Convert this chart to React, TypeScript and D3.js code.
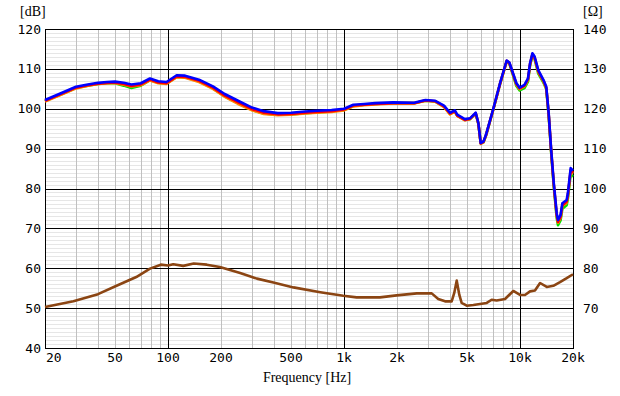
import React from "react";
import * as d3 from "d3";

const splFreq = [20, 25, 30, 35, 40, 45, 50, 56, 62, 70, 79, 88, 98, 112, 125, 150, 180, 210, 250, 300, 350, 420, 500, 600, 700, 850, 1000, 1130, 1300, 1500, 1900, 2500, 2900, 3300, 3700, 4000, 4260, 4400, 4860, 5200, 5600, 5800, 5980, 6200, 6400, 7060, 7700, 8400, 8700, 9540, 9950, 10600, 11100, 11400, 11760, 12100, 12700, 13600, 14100, 14550, 15030, 15560, 16160, 16440, 17000, 17400, 18400, 18700, 19400, 20000];

const splBlue = [102.2, 104.0, 105.5, 106.1, 106.5, 106.7, 106.8, 106.5, 106.1, 106.4, 107.6, 106.9, 106.7, 108.4, 108.3, 107.3, 105.6, 103.7, 102.0, 100.3, 99.4, 98.9, 99.0, 99.3, 99.5, 99.7, 100.0, 101.0, 101.2, 101.4, 101.6, 101.5, 102.2, 102.0, 100.8, 99.0, 99.6, 98.5, 97.4, 97.6, 99.0, 96.4, 91.4, 91.8, 93.4, 100.1, 106.4, 112.1, 111.6, 106.4, 105.3, 106.0, 107.6, 111.4, 113.9, 113.1, 109.7, 107.2, 105.5, 98.9, 89.7, 81.3, 73.8, 72.1, 73.4, 76.3, 77.1, 78.8, 85.1, 84.5];

const splRed = [102.0, 103.8, 105.3, 105.9, 106.3, 106.5, 106.6, 106.2, 105.7, 106.1, 107.3, 106.6, 106.4, 108.1, 108.0, 107.0, 105.3, 103.3, 101.6, 99.9, 99.0, 98.6, 98.7, 99.0, 99.2, 99.4, 99.8, 100.8, 101.0, 101.2, 101.4, 101.4, 102.1, 101.9, 100.6, 98.8, 99.4, 98.3, 97.2, 97.5, 98.9, 96.3, 91.3, 91.7, 93.3, 100.0, 106.3, 112.0, 111.5, 106.2, 105.1, 105.8, 107.4, 111.2, 113.7, 112.9, 109.4, 107.0, 105.3, 98.7, 89.5, 81.0, 73.4, 71.6, 72.9, 75.8, 76.7, 78.3, 84.6, 84.0];

const splOrange = [101.8, 103.6, 105.1, 105.8, 106.2, 106.4, 106.4, 106.0, 105.6, 105.9, 107.1, 106.4, 106.2, 107.9, 107.8, 106.7, 105.0, 103.0, 101.2, 99.6, 98.7, 98.4, 98.5, 98.8, 99.0, 99.2, 99.6, 100.6, 100.9, 101.1, 101.3, 101.3, 102.0, 101.8, 100.4, 98.6, 99.3, 98.2, 97.1, 97.4, 98.8, 96.2, 91.2, 91.6, 93.2, 99.9, 106.2, 111.9, 111.4, 106.0, 104.9, 105.6, 107.2, 111.0, 113.5, 112.7, 109.2, 106.8, 105.1, 98.5, 89.3, 80.8, 73.2, 71.4, 72.6, 75.6, 76.4, 78.0, 84.3, 83.7];

const splGreen = [101.9, 103.7, 105.2, 105.8, 106.2, 106.4, 106.4, 105.8, 105.2, 105.8, 107.2, 106.5, 106.3, 108.0, 107.9, 106.9, 105.1, 103.1, 101.4, 99.7, 98.8, 98.5, 98.6, 98.9, 99.1, 99.3, 99.7, 100.7, 101.0, 101.2, 101.4, 101.4, 102.0, 101.8, 100.5, 98.7, 99.3, 98.2, 97.2, 97.4, 98.8, 96.2, 91.3, 91.6, 93.2, 99.9, 106.2, 111.9, 111.3, 105.7, 104.6, 105.2, 106.8, 110.8, 113.4, 112.5, 108.8, 106.5, 104.9, 98.3, 89.0, 80.4, 72.6, 70.8, 72.0, 74.9, 75.8, 77.4, 83.6, 83.0];

const impFreq = [20, 29, 40, 51, 66, 79, 91, 100, 107, 122, 140, 166, 197, 257, 320, 397, 516, 733, 990, 1180, 1600, 1990, 2590, 3150, 3430, 3750, 4090, 4230, 4370, 4520, 4660, 4980, 5430, 6470, 6900, 7370, 8220, 9160, 10000, 10670, 11400, 12160, 13000, 14190, 15460, 16870, 18420, 20000];
const impOhm = [70.3, 71.7, 73.5, 75.6, 77.8, 79.9, 80.9, 80.7, 81.0, 80.6, 81.2, 80.9, 80.3, 78.8, 77.4, 76.4, 75.2, 74.0, 73.1, 72.7, 72.7, 73.2, 73.7, 73.7, 72.3, 71.7, 71.7, 73.8, 76.9, 73.3, 71.3, 70.6, 70.8, 71.3, 72.1, 71.9, 72.3, 74.3, 73.3, 73.3, 74.2, 74.4, 76.3, 75.3, 75.6, 76.5, 77.5, 78.5];

const freqTicks = [20, 50, 100, 200, 500, 1000, 2000, 5000, 10000, 20000];
const freqTickLabels = ["20", "50", "100", "200", "500", "1k", "2k", "5k", "10k", "20k"];
const dbTicks = [40, 50, 60, 70, 80, 90, 100, 110, 120];
const ohmTicks = [70, 80, 90, 100, 110, 120, 130, 140];

const W = 620, H = 396;
const L = 45, R = 573, T = 29, B = 348;

export default function App() {
  const x = d3.scaleLog().domain([20, 20000]).range([L, R]);
  const yDb = d3.scaleLinear().domain([40, 120]).range([B, T]);
  const yOhm = d3.scaleLinear().domain([60, 140]).range([B, T]);

  const minorF: number[] = [];
  [10, 100, 1000, 10000].forEach((dec) => {
    for (let k = 1; k <= 9; k++) {
      const f = dec * k;
      if (f > 20 && f < 20000 && k !== 1) minorF.push(f);
    }
  });
  const majorF = [100, 1000, 10000];
  const minorDb: number[] = d3.range(41, 120).filter((v) => v % 10 !== 0);

  const splLine = (vals: number[]) =>
    d3.line<number>().x((_, i) => x(splFreq[i])).y((v) => yDb(v))(vals) || "";
  const impLine =
    d3.line<number>().x((_, i) => x(impFreq[i])).y((v) => yOhm(v))(impOhm) || "";

  const mono = "'DejaVu Sans Mono', monospace";
  const serif = "'Liberation Serif', 'DejaVu Serif', serif";

  return (
    <svg width={W} height={H} style={{ position: "absolute", left: 0, top: 0, background: "#fff" }}>
      <rect x={0} y={0} width={W} height={H} fill="#fff" />
      <g shapeRendering="crispEdges">
        {minorDb.map((v) => (
          <line key={"hd" + v} x1={L} x2={R} y1={Math.round(yDb(v)) + 0.5} y2={Math.round(yDb(v)) + 0.5} stroke="#e6e6e6" />
        ))}
        {minorF.map((f) => (
          <line key={"vf" + f} x1={Math.round(x(f)) + 0.5} x2={Math.round(x(f)) + 0.5} y1={T} y2={B} stroke="#c0c0c0" />
        ))}
        {dbTicks.map((v) => (
          <line key={"hm" + v} x1={L} x2={R} y1={Math.round(yDb(v)) + 0.5} y2={Math.round(yDb(v)) + 0.5} stroke="#000" />
        ))}
        {majorF.map((f) => (
          <line key={"vm" + f} x1={Math.round(x(f)) + 0.5} x2={Math.round(x(f)) + 0.5} y1={T} y2={B} stroke="#000" />
        ))}
        <rect x={L + 0.5} y={T + 0.5} width={R - L} height={B - T} fill="none" stroke="#000" />
      </g>
      <g fill="none" strokeWidth={2.6} strokeLinejoin="round">
        <path d={impLine} stroke="#8b4513" />
        <path d={splLine(splGreen)} stroke="#00e000" />
        <path d={splLine(splOrange)} stroke="#ff8c00" />
        <path d={splLine(splRed)} stroke="#ff0000" />
        <path d={splLine(splBlue)} stroke="#0000ff" />
      </g>
      <g fontFamily={mono} fontSize={13} fill="#000">
        {dbTicks.map((v) => (
          <text key={"ld" + v} x={41} y={yDb(v) + 4.5} textAnchor="end">{v}</text>
        ))}
        {ohmTicks.map((v) => (
          <text key={"ro" + v} x={583} y={yOhm(v) + 4.5} textAnchor="start">{v}</text>
        ))}
        {freqTicks.map((f, i) => (
          <text key={"bf" + f} x={i === 0 ? 46 : x(f)} y={362} textAnchor={i === 0 ? "start" : "middle"}>{freqTickLabels[i]}</text>
        ))}
      </g>
      <g fontFamily={serif} fontSize={14} fill="#000">
        <text x={20} y={16}>[dB]</text>
        <text x={583} y={16}>[Ω]</text>
        <text x={307} y={382} textAnchor="middle">Frequency [Hz]</text>
      </g>
    </svg>
  );
}
